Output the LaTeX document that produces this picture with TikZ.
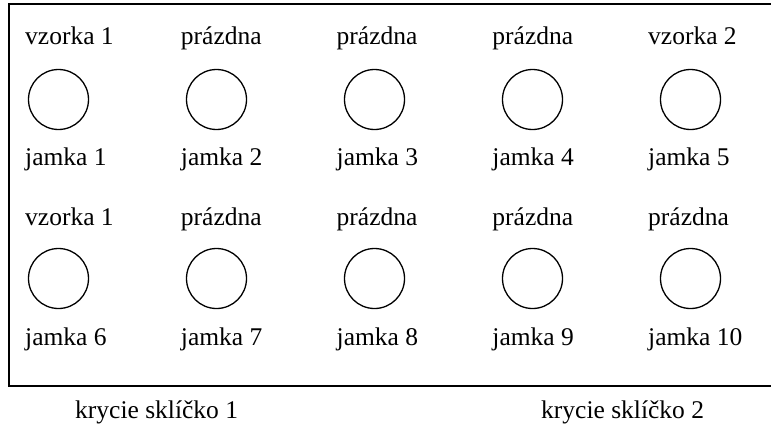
\documentclass[tikz,border=0pt]{standalone}
\usepackage{fontspec}
\setmainfont{Liberation Serif}
\begin{document}
\begin{tikzpicture}[x=1pt,y=-1pt,
  lbl/.style={anchor=base west,inner sep=0pt,font=\fontsize{25.5}{30}\selectfont},
  well/.style={draw,circle,line width=1.3pt,minimum size=60pt,inner sep=0pt}]
\useasboundingbox (0,0) rectangle (771,423);
\draw[line width=1.5pt] (772,4) -- (9,4) -- (9,386) -- (772,386);
% row 1
\foreach \i/\t in {1/vzorka 1,2/prázdna,3/prázdna,4/prázdna,5/vzorka 2}{
  \pgfmathsetmacro{\cx}{58.5+158*(\i-1)}
  \pgfmathsetmacro{\tx}{25+155.75*(\i-1)}
  \node[lbl] (t\i) at (\tx,44) {\t};
  \node[well] (c\i) at (\cx,99.5) {};
  \node[lbl] (j\i) at (\tx,165) {jamka \i};
}
% row 2
\foreach \i/\t/\n in {1/vzorka 1/6,2/prázdna/7,3/prázdna/8,4/prázdna/9,5/prázdna/10}{
  \pgfmathsetmacro{\cx}{58.5+158*(\i-1)}
  \pgfmathsetmacro{\tx}{25+155.75*(\i-1)}
  \node[lbl] (u\i) at (\tx,225) {\t};
  \node[well] (d\i) at (\cx,278.5) {};
  \node[lbl] (k\i) at (\tx,345) {jamka \n};
}
\node[lbl] (s1) at (75,418) {krycie sklíčko 1};
\node[lbl] (s2) at (541,418) {krycie sklíčko 2};
\end{tikzpicture}
\end{document}
